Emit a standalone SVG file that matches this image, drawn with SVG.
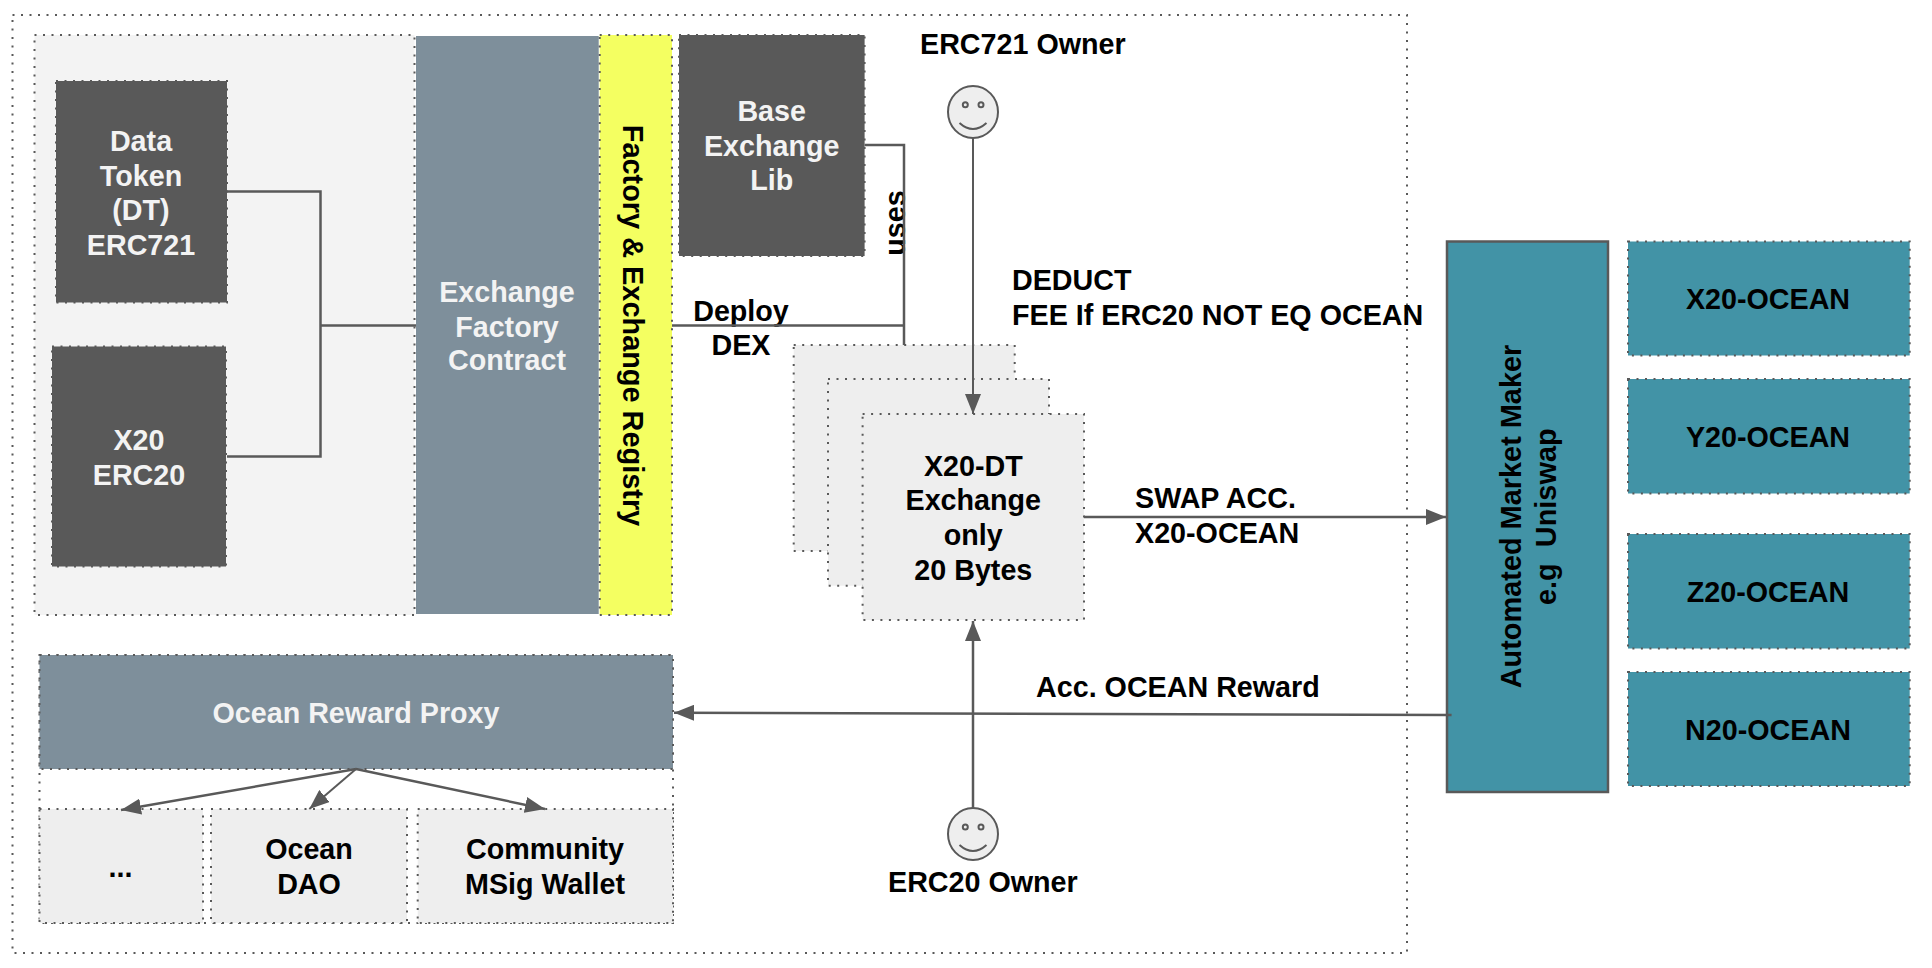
<svg xmlns="http://www.w3.org/2000/svg" width="1932" height="968" viewBox="0 0 1932 968">
<style>
text{font-family:"Liberation Sans",Arial,sans-serif;font-weight:700;font-size:28.7px;fill:#000}
.w{fill:#f3f3f3}
.m{text-anchor:middle}
.big{font-size:28.9px}
.dot{stroke:#595959;stroke-width:2;stroke-dasharray:2 6.5}
.dark{fill:#595959}
.slate{fill:#7e8f9b}
.teal{fill:#4293a6}
.lite{fill:#eeeeee}
.line{fill:none;stroke:#595959;stroke-width:2.5}
.thin{stroke-width:2}
.face{fill:#eeeeee;stroke:#595959;stroke-width:2}
.fl{fill:none;stroke:#595959;stroke-width:2}
</style>
<defs>
<marker id="ah" markerUnits="userSpaceOnUse" viewBox="0 0 20 16" markerWidth="20" markerHeight="16" refX="20" refY="8" orient="auto"><path d="M0 0L20 8L0 16Z" fill="#595959"/></marker>
</defs>
<rect id="outer" x="12.5" y="15" width="1394.5" height="938" fill="#fff" class="dot"/>
<g id="reward-container"><rect x="39.5" y="655" width="633.5" height="268" fill="#fff" class="dot"/></g>
<g id="contracts-panel"><rect x="34.5" y="35" width="380" height="580" fill="#f3f3f3" class="dot"/></g>
<g id="data-token"><rect class="dark dot" x="56" y="81" width="171" height="221.500"/><text class="w m" x="141" y="150.500">Data</text><text class="w m" x="141" y="185.500">Token</text><text class="w m" x="141" y="220">(DT)</text><text class="w m" x="141" y="254.500">ERC721</text></g>
<g id="x20-erc20"><rect class="dark dot" x="52" y="346.500" width="174" height="220"/><text class="w m" x="139" y="450">X20</text><text class="w m" x="139" y="484.500">ERC20</text></g>
<g id="exchange-factory"><rect class="slate" x="416" y="36" width="182.700" height="578"/><text class="w m" x="507" y="301.500">Exchange</text><text class="w m" x="507" y="336.500">Factory</text><text class="w m" x="507" y="370">Contract</text></g>
<g id="registry"><rect x="599.700" y="35" width="72.300" height="580" fill="#f4ff61" class="dot"/><text class="m big" transform="translate(622.500 325.500) rotate(90)">Factory &amp; Exchange Registry</text></g>
<g id="base-lib"><rect class="dark dot" x="679" y="35" width="185.600" height="221"/><text class="w m" x="771.700" y="121">Base</text><text class="w m" x="771.700" y="156">Exchange</text><text class="w m" x="771.700" y="190">Lib</text></g>
<text class="m" transform="translate(905 223) rotate(-90)" id="uses">uses</text>
<text id="deploy" class="m" x="741" y="321">Deploy</text><text id="dex" class="m" x="741" y="354.500">DEX</text>
<g id="erc721-owner"><text x="920" y="54">ERC721 Owner</text><ellipse class="face" cx="973" cy="112" rx="25" ry="26"/><circle class="fl" cx="965.300" cy="104.700" r="2.500"/><circle class="fl" cx="981" cy="104.700" r="2.500"/><path class="fl" d="M959.500 123Q973 135 986.500 123"/></g>
<text id="deduct" x="1012" y="289.500">DEDUCT</text><text id="fee" x="1012" y="324.500">FEE If ERC20 NOT EQ OCEAN</text>
<g id="stack-3"><rect class="lite dot" x="793.700" y="345" width="221" height="206"/></g>
<g id="stack-2"><rect class="lite dot" x="828" y="379" width="221" height="206.700"/></g>
<g id="stack-1"><rect class="lite dot" x="862.600" y="414" width="221.400" height="206"/><text class="m" x="973.300" y="476">X20-DT</text><text class="m" x="973.300" y="510">Exchange</text><text class="m" x="973.300" y="545">only</text><text class="m" x="973.300" y="579.500">20 Bytes</text></g>
<text id="swap1" x="1135" y="507.500">SWAP ACC.</text><text id="swap2" x="1135" y="542.500">X20-OCEAN</text>
<text id="reward-label" x="1036" y="697">Acc. OCEAN Reward</text>
<g id="reward-proxy"><rect class="slate dot" x="39.500" y="655" width="633.500" height="114"/><text class="w m" x="356" y="723">Ocean Reward Proxy</text></g>
<g id="etc"><rect class="lite dot" x="39.500" y="809" width="163.500" height="114"/><text class="m" x="120.500" y="877">...</text></g>
<g id="ocean-dao"><rect class="lite dot" x="211" y="809" width="196" height="114"/><text class="m" x="309" y="859">Ocean</text><text class="m" x="309" y="894">DAO</text></g>
<g id="community"><rect class="lite dot" x="417.700" y="809" width="255.300" height="114"/><text class="m" x="545" y="859">Community</text><text class="m" x="545" y="894">MSig Wallet</text></g>
<g id="erc20-owner"><ellipse class="face" cx="973" cy="834" rx="25" ry="26"/><circle class="fl" cx="965.300" cy="827" r="2.500"/><circle class="fl" cx="981" cy="827" r="2.500"/><path class="fl" d="M959.500 845Q973 857 986.500 845"/><text x="888" y="892">ERC20 Owner</text></g>
<g id="amm"><rect class="teal" x="1447" y="241.500" width="161" height="550.500" stroke="#595959" stroke-width="2.500"/><text class="m big" transform="translate(1521 516.500) rotate(-90)">Automated Market Maker</text><text class="m big" xml:space="preserve" transform="translate(1555.500 516.700) rotate(-90)">e.g  Uniswap</text></g>
<g id="x20-ocean"><rect class="teal dot" x="1628" y="241.500" width="281.700" height="114"/><text class="m" x="1768" y="309">X20-OCEAN</text></g>
<g id="y20-ocean"><rect class="teal dot" x="1628" y="379" width="281.700" height="114.500"/><text class="m" x="1768" y="446.500">Y20-OCEAN</text></g>
<g id="z20-ocean"><rect class="teal dot" x="1628" y="534" width="281.700" height="114.500"/><text class="m" x="1768" y="601.500">Z20-OCEAN</text></g>
<g id="n20-ocean"><rect class="teal dot" x="1628" y="672" width="281.700" height="114"/><text class="m" x="1768" y="740">N20-OCEAN</text></g>
<g id="connectors">
<path class="line" d="M227 191.500H320.500V456.500H227M320.500 325.500H416"/>
<path class="line" d="M672 325.500H904M864.600 145H904V345"/>
<path class="line thin" d="M973 138V414" marker-end="url(#ah)"/>
<path class="line" d="M1084 517H1446" marker-end="url(#ah)"/>
<path class="line" d="M973 808V621" marker-end="url(#ah)"/>
<path class="line" d="M1451.600 715L674 712.700" marker-end="url(#ah)"/>
<path class="line" d="M356 769L121 810" marker-end="url(#ah)"/>
<path class="line thin" d="M356 769L309.300 809" marker-end="url(#ah)"/>
<path class="line" d="M356 769L545 809" marker-end="url(#ah)"/>
</g>
</svg>
